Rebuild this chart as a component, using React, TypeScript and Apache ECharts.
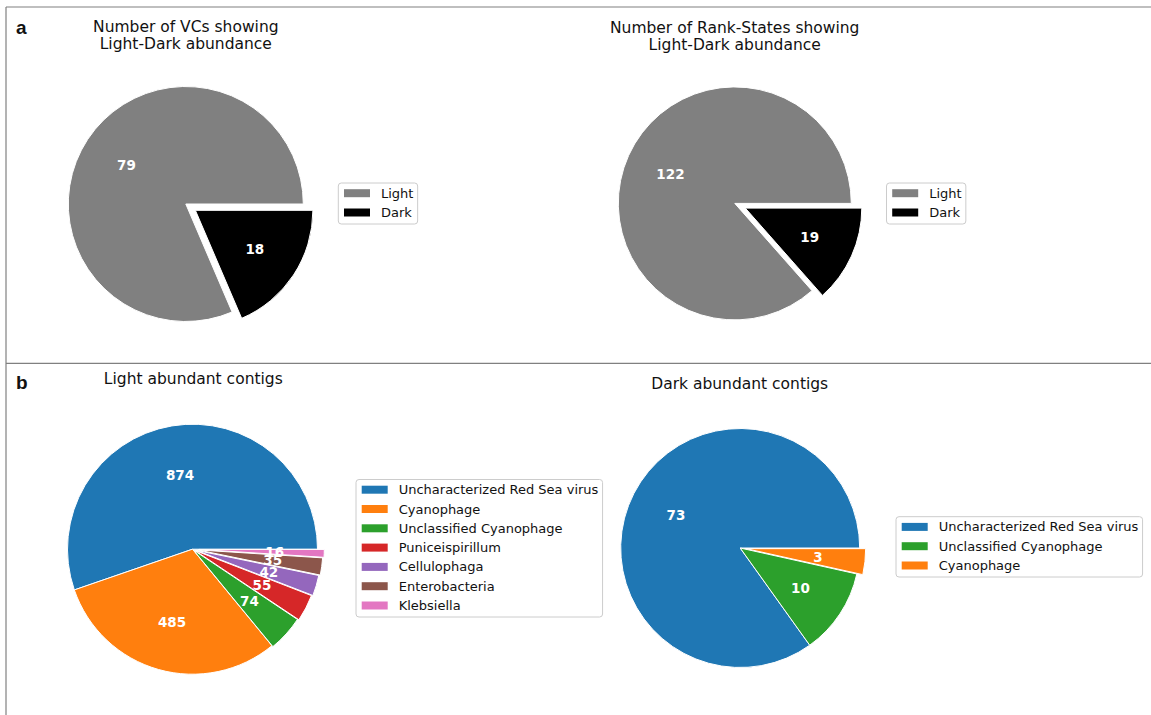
import React, { useEffect, useRef } from 'react';
import * as echarts from 'echarts';

// ---- data ----
const vcCategories = ['Light', 'Dark'];
const vcValues = [79, 18];
const rankStateCategories = ['Light', 'Dark'];
const rankStateValues = [122, 19];
const lightContigTaxa = [
  'Uncharacterized Red Sea virus',
  'Cyanophage',
  'Unclassified Cyanophage',
  'Puniceispirillum',
  'Cellulophaga',
  'Enterobacteria',
  'Klebsiella',
];
const lightContigValues = [874, 485, 74, 55, 42, 35, 16];
const darkContigTaxa = ['Uncharacterized Red Sea virus', 'Unclassified Cyanophage', 'Cyanophage'];
const darkContigValues = [73, 10, 3];

// ---- styles ----
const FONT = "'DejaVu Sans', sans-serif";
const COLORS: Record<string, string> = {
  Light: '#808080',
  Dark: '#000000',
  'Uncharacterized Red Sea virus': '#1f77b4',
  Cyanophage: '#ff7f0e',
  'Unclassified Cyanophage': '#2ca02c',
  Puniceispirillum: '#d62728',
  Cellulophaga: '#9467bd',
  Enterobacteria: '#8c564b',
  Klebsiella: '#e377c2',
};
const TRANSPARENT = 'rgba(0,0,0,0)';

function buildPie(names: string[], values: number[], center: number[], r: number, offsets: number[]) {
  const groups = Array.from(new Set(offsets));
  const common = {
    type: 'pie',
    center,
    startAngle: 0,
    clockwise: false,
    silent: true,
    legendHoverLink: false,
    avoidLabelOverlap: false,
    minShowLabelAngle: 0,
    labelLayout: { hideOverlap: false },
    emphasis: { disabled: true },
    labelLine: { show: false },
  };
  const fills = groups.map((off) => ({
    ...common,
    radius: [0, r],
    selectedMode: off > 0 ? 'multiple' : false,
    selectedOffset: off,
    label: { show: false },
    data: names.map((name, i) => {
      const mine = offsets[i] === off;
      return {
        name,
        value: values[i],
        selected: off > 0 && mine,
        itemStyle: mine
          ? { color: COLORS[name], borderColor: '#ffffff', borderWidth: 1 }
          : { color: TRANSPARENT, borderColor: TRANSPARENT, borderWidth: 0 },
      };
    }),
  }));
  const labels = groups.map((off) => ({
    ...common,
    z: 5,
    radius: [r * 0.16, r],
    selectedMode: off > 0 ? 'multiple' : false,
    selectedOffset: off,
    label: {
      show: true,
      position: 'inside',
      formatter: '{c}',
      color: '#ffffff',
      fontFamily: FONT,
      fontWeight: 'bold',
      fontSize: 13.5,
      padding: [0, 0, 3, 0],
      textBorderWidth: 0,
    },
    data: names.map((name, i) => {
      const mine = offsets[i] === off;
      return {
        name,
        value: values[i],
        selected: off > 0 && mine,
        label: { show: mine },
        itemStyle: { color: TRANSPARENT, borderColor: TRANSPARENT, borderWidth: 0 },
      };
    }),
  }));
  return [...fills, ...labels];
}

function buildLegend(names: string[], left: number, top: number) {
  return {
    orient: 'vertical',
    left,
    top,
    itemWidth: 26,
    itemHeight: 8,
    itemGap: 6.3,
    padding: [3.7, 4.2, 5, 5.7],
    icon: 'rect',
    selectedMode: false,
    borderColor: '#cccccc',
    borderWidth: 1,
    borderRadius: 3,
    backgroundColor: 'rgba(255,255,255,0.8)',
    itemStyle: { borderWidth: 0 },
    textStyle: { fontFamily: FONT, fontSize: 13, color: '#111111', padding: [0, 0, 0, 6] },
    data: names.map((name) => ({ name, itemStyle: { color: COLORS[name], borderWidth: 0 } })),
  };
}

function text(str: string, x: number, y: number, font: string, align = 'center') {
  return {
    type: 'text',
    x,
    y,
    silent: true,
    style: {
      text: str,
      font,
      fill: '#111111',
      textAlign: align,
      textVerticalAlign: 'middle',
    },
  };
}

function line(x1: number, y1: number, x2: number, y2: number) {
  return {
    type: 'line',
    silent: true,
    shape: { x1, y1, x2, y2 },
    style: { stroke: '#808080', lineWidth: 1.2 },
  };
}

export default function App() {
  const ref = useRef<HTMLDivElement>(null);

  useEffect(() => {
    document.body.style.margin = '0';
    if (!ref.current) return;
    const chart = echarts.init(ref.current, null, { renderer: 'svg' });
    const titleFont = `15.5px ${FONT}`;
    const panelFont = `bold 19px 'Liberation Sans', Arial, sans-serif`;
    chart.setOption({
      animation: false,
      backgroundColor: '#ffffff',
      legend: [
        buildLegend(vcCategories, 338.3, 183),
        buildLegend(rankStateCategories, 886.5, 183),
        buildLegend(lightContigTaxa, 356, 479.5),
        buildLegend(darkContigTaxa, 896, 516.7),
      ],
      series: [
        ...buildPie(vcCategories, vcValues, [185.8, 204], 117.5, [0, 11.5]),
        ...buildPie(rankStateCategories, rankStateValues, [734.8, 203.4], 116.5, [0, 11.5]),
        ...buildPie(lightContigTaxa, lightContigValues, [192.5, 549.2], 125, [0, 0, 1.3, 2.7, 4, 5.4, 6.8]),
        ...buildPie(darkContigTaxa, darkContigValues, [740.2, 548], 119.5, [0, 0, 6]),
      ],
      graphic: [
        line(6, 7, 1151, 7),
        line(6, 7, 6, 715),
        line(6, 363.3, 1151, 363.3),
        text('a', 16, 27.2, panelFont, 'left'),
        text('b', 16, 382.2, panelFont, 'left'),
        text('Number of VCs showing', 185.8, 26.5, titleFont),
        text('Light-Dark abundance', 185.8, 43.5, titleFont),
        text('Number of Rank-States showing', 734.7, 28, titleFont),
        text('Light-Dark abundance', 734.7, 45, titleFont),
        text('Light abundant contigs', 193.3, 379.3, titleFont),
        text('Dark abundant contigs', 739.7, 384.2, titleFont),
      ],
    });
    return () => chart.dispose();
  }, []);

  return (
    <div
      ref={ref}
      style={{ position: 'fixed', left: 0, top: 0, width: 1151, height: 715, background: '#ffffff' }}
    />
  );
}
